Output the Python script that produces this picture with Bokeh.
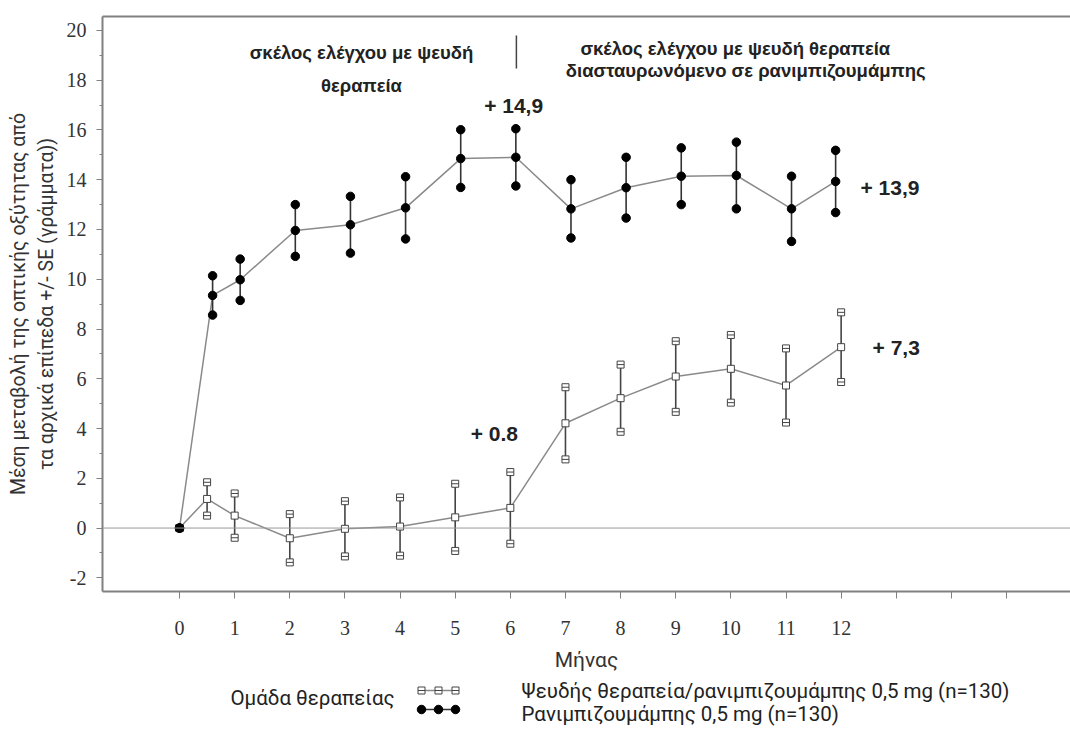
from bokeh.plotting import figure
from bokeh.models import Range1d, LinearAxis, FixedTicker, SingleIntervalTicker, Span
from bokeh.layouts import column
from bokeh.core.properties import value
from bokeh.embed import file_html
from bokeh.resources import INLINE

# ---------------- data ----------------
month_ticks = list(range(16))
month_labels = {m: (str(m) if m <= 12 else "") for m in month_ticks}
y_ticks = list(range(-2, 21, 2))
y_labels = {v: str(v) for v in y_ticks}

# Ranibizumab 0.5 mg (n=130)  -- filled circles
rani_month = [0, 0.6, 1.1, 2.1, 3.1, 4.1, 5.1, 6.1, 7.1, 8.1, 9.1, 10.1, 11.1, 11.9]
rani_mean = [0, 9.35, 9.98, 11.96, 12.19, 12.87, 14.85, 14.9, 12.83, 13.68, 14.14, 14.17, 12.83, 13.93]
rani_se = [0, 0.79, 0.83, 1.04, 1.14, 1.25, 1.16, 1.15, 1.17, 1.22, 1.14, 1.34, 1.31, 1.25]

# Sham / ranibizumab 0.5 mg (n=130)  -- open squares
sham_month = [0, 0.5, 1, 2, 3, 4, 5, 6, 7, 8, 9, 10, 11, 12]
sham_mean = [0, 1.17, 0.50, -0.41, -0.03, 0.06, 0.43, 0.81, 4.21, 5.22, 6.09, 6.40, 5.73, 7.27]
sham_se = [0, 0.67, 0.89, 0.97, 1.11, 1.17, 1.35, 1.44, 1.45, 1.35, 1.42, 1.36, 1.49, 1.40]

annot_text = ["+ 14,9", "+ 0.8", "+ 13,9", "+ 7,3"]

rani_lo = [m - s for m, s in zip(rani_mean, rani_se)]
rani_hi = [m + s for m, s in zip(rani_mean, rani_se)]
sham_lo = [m - s for m, s in zip(sham_mean, sham_se)]
sham_hi = [m + s for m, s in zip(sham_mean, sham_se)]

FRAME = "#808080"
TXT = "#222222"
SANS = "Roboto"

MAIN_H = 678

p = figure(width=1070, height=MAIN_H, output_backend="svg", toolbar_location=None,
           x_range=Range1d(-1.397, 16.16), y_range=Range1d(-2.55, 20.56),
           x_axis_type=None, y_axis_type=None,
           min_border_left=102, min_border_right=0, min_border_top=16, min_border_bottom=MAIN_H - 591)
p.outline_line_color = None
p.background_fill_color = "white"

# left axis
yax = LinearAxis(ticker=SingleIntervalTicker(interval=2, num_minor_ticks=2),
                 major_label_overrides=y_labels,
                 axis_label="Μέση μεταβολή της οπτικής οξύτητας από\nτα αρχικά επίπεδα +/- SE (γράμματα))")
yax.axis_line_color = FRAME
yax.axis_line_width = 2
yax.major_tick_line_color = FRAME
yax.minor_tick_line_color = FRAME
yax.major_tick_in = 0
yax.major_tick_out = 6
yax.minor_tick_in = 0
yax.minor_tick_out = 3
yax.major_label_text_font = "Liberation Serif"
yax.major_label_text_font_size = "20px"
yax.major_label_text_color = "#333333"
yax.major_label_standoff = 10
yax.axis_label_text_font = SANS
yax.axis_label_text_font_size = "19.5px"
yax.axis_label_text_font_style = "normal"
yax.axis_label_text_color = "#333333"
yax.axis_label_standoff = 6
p.add_layout(yax, "left")

# bottom axis
xax = LinearAxis(ticker=FixedTicker(ticks=month_ticks), axis_label="Μήνας",
                 major_label_overrides=month_labels)
xax.axis_line_color = FRAME
xax.axis_line_width = 2
xax.major_tick_line_color = FRAME
xax.major_tick_in = 0
xax.major_tick_out = 7
xax.minor_tick_line_color = None
xax.major_label_text_font = "Liberation Serif"
xax.major_label_text_font_size = "20px"
xax.major_label_text_color = "#333333"
xax.major_label_standoff = 22
xax.axis_label_text_font = SANS
xax.axis_label_text_font_size = "21px"
xax.axis_label_text_font_style = "normal"
xax.axis_label_text_color = "#333333"
xax.axis_label_standoff = 10
p.add_layout(xax, "below")

# top frame line
tax = LinearAxis(ticker=FixedTicker(ticks=[]))
tax.axis_line_color = FRAME
tax.axis_line_width = 2
tax.major_tick_line_color = None
tax.minor_tick_line_color = None
p.add_layout(tax, "above")

p.add_layout(Span(location=0, dimension="width", line_color="#999999", line_width=1))

# connecting lines
p.line(sham_month, sham_mean, line_color="#8a8a8a", line_width=1.5)
p.line(rani_month, rani_mean, line_color="#8a8a8a", line_width=1.5)

# error bars
p.segment(x0=sham_month, y0=sham_lo, x1=sham_month, y1=sham_hi, line_color="#444444", line_width=1.6)
p.segment(x0=rani_month, y0=rani_lo, x1=rani_month, y1=rani_hi, line_color="#333333", line_width=1.6)

# sham markers: open squares
for ys in (sham_lo, sham_hi, sham_mean):
    p.scatter(sham_month, ys, marker="square", size=7, fill_color="white",
              line_color="#444444", line_width=1)
for ys in (sham_lo, sham_hi):
    p.scatter(sham_month, ys, marker="dash", size=7, line_color="#444444", line_width=1)

# ranibizumab markers: filled circles
for ys in (rani_lo, rani_hi, rani_mean):
    p.scatter(rani_month, ys, marker="circle", size=8.5, fill_color="black", line_color="black")

# header texts
p.text(x=[3.30, 3.30, 10.08, 10.27], y=[19.1, 17.8, 19.28, 18.39],
       text=["σκέλος ελέγχου με ψευδή", "θεραπεία",
             "σκέλος ελέγχου με ψευδή θεραπεία", "διασταυρωνόμενο σε ρανιμπιζουμάμπης"],
       text_font=value("Liberation Sans"), text_font_style="bold", text_font_size="18.5px",
       text_align="center", text_baseline="middle", text_color=TXT)
p.segment(x0=[6.11], y0=[18.47], x1=[6.11], y1=[19.8], line_color="#444444", line_width=1.5)

# value annotations
p.text(x=[6.06, 5.71, 12.35, 12.57], y=[16.98, 3.79, 13.68, 7.27], text=annot_text,
       text_font=value("Liberation Sans"), text_font_style="bold", text_font_size="21px",
       text_align=["center", "center", "left", "left"], text_baseline="middle", text_color=TXT)

# ---------------- legend strip (x in page pixels, y in pixels below the chart) ----------------
LEG_H = 731 - MAIN_H
p2 = figure(width=1070, height=LEG_H, output_backend="svg", toolbar_location=None,
            x_range=Range1d(102, 1070), y_range=Range1d(LEG_H, 0),
            x_axis_type=None, y_axis_type=None,
            min_border_left=102, min_border_right=0, min_border_top=0, min_border_bottom=0)
p2.outline_line_color = None

off = MAIN_H
p2.text(x=[230], y=[697 - off], text=["Ομάδα θεραπείας"], text_font=value(SANS), text_font_size="20.5px",
        text_align="left", text_baseline="middle", text_color=TXT)
p2.line([418, 458], [690 - off] * 2, line_color="#8a8a8a", line_width=1.5)
p2.scatter([421, 438, 455], [690 - off] * 3, marker="square", size=7, fill_color="white",
           line_color="#444444")
p2.scatter([421, 438, 455], [690 - off] * 3, marker="dash", size=7, line_color="#444444")
p2.line([418, 458], [709 - off] * 2, line_color="#333333", line_width=1.5)
p2.scatter([421, 438, 455], [709 - off] * 3, marker="circle", size=8.5, fill_color="black",
           line_color="black")
p2.text(x=[521, 521], y=[690 - off, 713 - off],
        text=["Ψευδής θεραπεία/ρανιμπιζουμάμπης 0,5 mg (n=130)", "Ρανιμπιζουμάμπης 0,5 mg (n=130)"],
        text_font=value(SANS), text_font_size="20.5px", text_align="left", text_baseline="middle",
        text_color=TXT)

layout = column(p, p2)
open("out.html", "w").write(file_html(layout, INLINE))
